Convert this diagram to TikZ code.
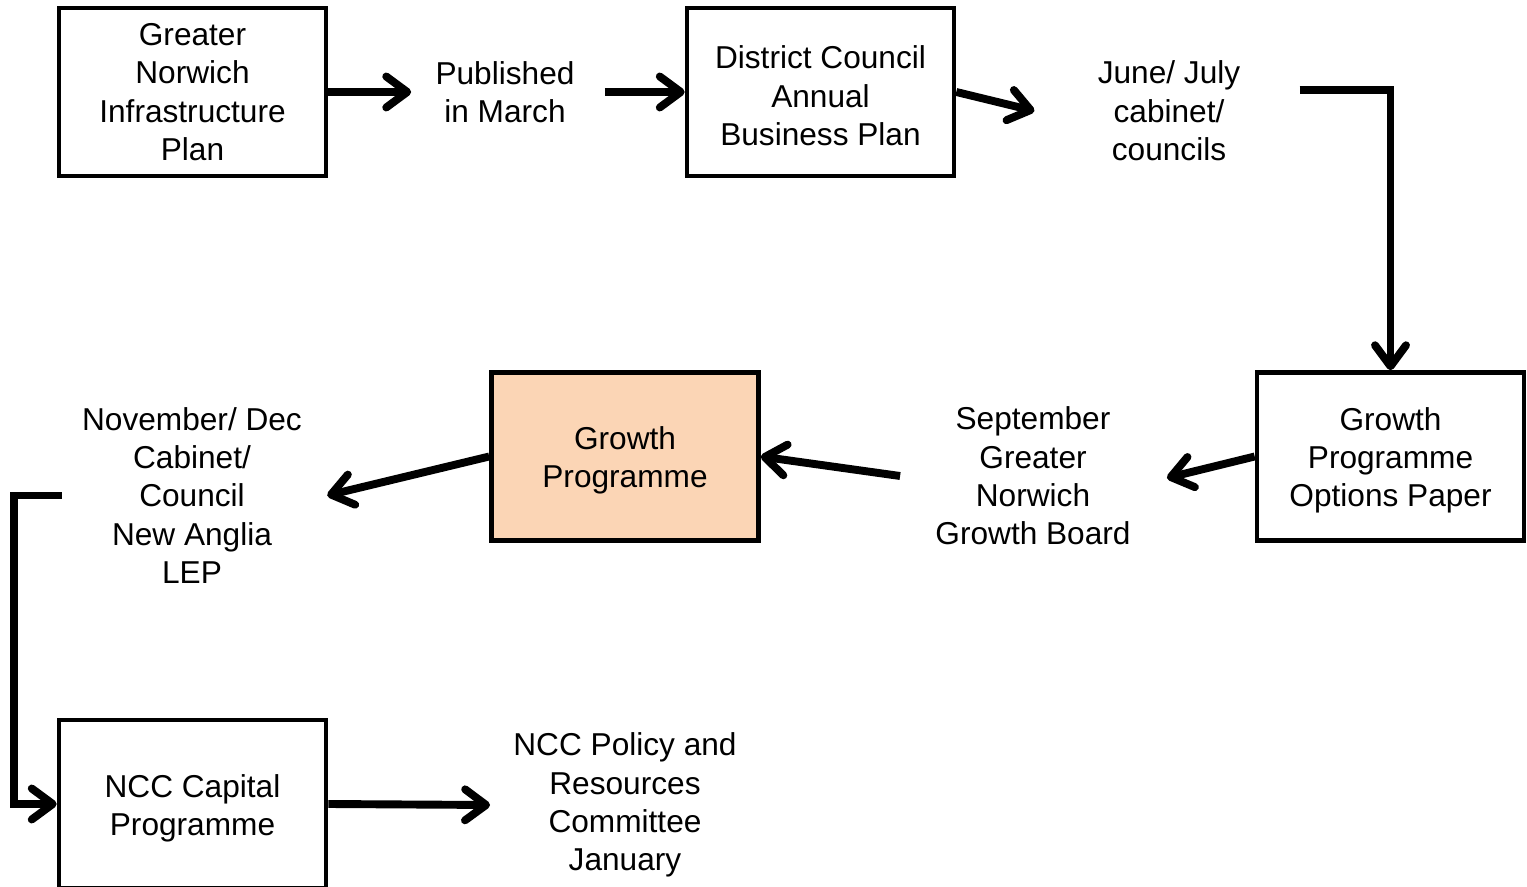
\documentclass[tikz,border=0pt]{standalone}
\usepackage{fontspec}
\setmainfont{Liberation Sans}
\usetikzlibrary{arrows.meta}

\definecolor{peach}{HTML}{FBD5B5}

\begin{document}
\begin{tikzpicture}[node distance=6.25cm,
    every node/.style={font=\fontsize{18}{21.8}\selectfont, align=center},
    box/.style={draw, line width=2.6pt, minimum width=5.34cm, minimum height=3.36cm, inner sep=0pt},
    boxtext/.style={inner sep=0pt, yshift=-0.08cm},
    lbl/.style={inner sep=0pt},
    flow/.style={line width=4.5pt, -{Straight Barb[length=0.42cm, width=0.62cm, round]}}]
                \useasboundingbox (0,0) rectangle (30.54,17.72);
                \node[box] (gnip) at (3.85,15.88) {Greater\\Norwich\\Infrastructure\\Plan};
                \node[lbl] (march) [right of=gnip] {Published\\in March};
                \node[box, label={[boxtext]center:District Council\\Annual\\Business Plan}] (dcabp) [right of=march, xshift=0.06cm] {};
                \node[lbl] (june) [right of=dcabp, xshift=0.72cm, yshift=-0.38cm] {June/ July\\cabinet/\\councils};
                \node[box, label={[boxtext]center:Growth\\Programme\\Options Paper}] (gpop) at (27.81,8.59) {};
                \node[lbl] (sept) [left of=gpop, xshift=-0.9cm, yshift=-0.39cm] {September\\Greater\\Norwich\\Growth Board};
                \node[box, fill=peach, label={[boxtext]center:Growth\\Programme}] (gp) at (12.50,8.59) {};
                \node[lbl] (nov) at (3.84,7.81) {November/ Dec\\Cabinet/\\Council\\New Anglia\\LEP};
                \node[box, label={[boxtext]center:NCC Capital\\Programme}] (ncc) at (3.85,1.64) {};
                \node[lbl] (policy) at (12.50,1.62) {NCC Policy and\\Resources\\Committee\\January};

                \draw[flow] (gnip.east) -- ([xshift=-0.48cm]march.west);
                \draw[flow] ([xshift=0.6cm]march.east) -- (dcabp.west);
                \draw[flow] (dcabp.east) -- ([xshift=-1.26cm]june.west);
                \draw[flow] ([xshift=1.18cm,yshift=0.42cm]june.east) -| (gpop.north);
                \draw[flow] (gpop.west) -- ([xshift=0.72cm,yshift=-0.04cm]sept.east);
                \draw[flow] ([xshift=-0.7cm]sept.west) -- (gp.east);
                \draw[flow] (gp.west) -- ([xshift=0.5cm]nov.east);
                \draw[flow] ([xshift=-0.4cm]nov.west) -- ++(-0.96,0) |- (ncc.west);
                \draw[flow] (ncc.east) -- ([xshift=-0.46cm]policy.west);
\end{tikzpicture}
\end{document}
